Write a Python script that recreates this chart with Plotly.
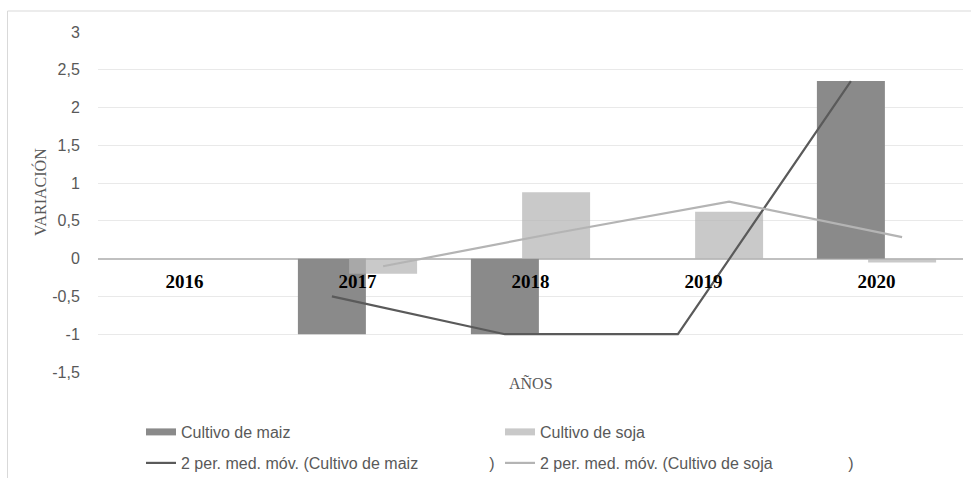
import plotly.graph_objects as go

years = ["2016", "2017", "2018", "2019", "2020"]
maiz = [0, -1, -1, 0, 2.35]
soja = [0, -0.2, 0.88, 0.62, -0.05]
maiz_ma = [None, -0.5, -1, -1, 2.35]
soja_ma = [None, -0.1, 0.34, 0.755, 0.285]
y_tickvals = [-1.5, -1, -0.5, 0, 0.5, 1, 1.5, 2, 2.5, 3]
y_ticktext = ["-1,5", "-1", "-0,5", "0", "0,5", "1", "1,5", "2", "2,5", "3"]

names = ["Cultivo de maiz", "Cultivo de soja",
         "2 per. med. móv. (Cultivo de maiz" + "\u00a0" * 16 + ")",
         "2 per. med. móv. (Cultivo de soja" + "\u00a0" * 17 + ")"]

C_MAIZ = "rgb(138,138,138)"
C_SOJA = "rgba(180,180,180,0.72)"
C_SOJA_LEG = "rgb(201,201,201)"
C_MAIZ_MA = "rgb(90,90,90)"
C_SOJA_MA = "rgb(180,180,180)"

idx = list(range(len(years)))
off = 0.148
bw = 0.393
x_m = [i - off for i in idx]
x_s = [i + off for i in idx]

fig = go.Figure()
fig.add_trace(go.Bar(x=x_m, y=maiz, width=bw, marker=dict(color=C_MAIZ, line=dict(width=0)),
                     showlegend=False, name=names[0]))
fig.add_trace(go.Bar(x=x_s, y=soja, width=bw, marker=dict(color=C_SOJA, line=dict(width=0)),
                     showlegend=False, name=names[1]))
fig.add_trace(go.Scatter(x=x_m, y=maiz_ma, mode="lines", line=dict(color=C_MAIZ_MA, width=2.2),
                         showlegend=False, name=names[2]))
fig.add_trace(go.Scatter(x=x_s, y=soja_ma, mode="lines", line=dict(color=C_SOJA_MA, width=2.2),
                         showlegend=False, name=names[3]))

# legend entries
fig.add_trace(go.Scatter(x=[None], y=[None], mode="lines", line=dict(color=C_MAIZ, width=7),
                         name=names[0], legend="legend"))
fig.add_trace(go.Scatter(x=[None], y=[None], mode="lines", line=dict(color=C_SOJA_LEG, width=7),
                         name=names[1], legend="legend"))
fig.add_trace(go.Scatter(x=[None], y=[None], mode="lines", line=dict(color=C_MAIZ_MA, width=2.2),
                         name=names[2], legend="legend2"))
fig.add_trace(go.Scatter(x=[None], y=[None], mode="lines", line=dict(color=C_SOJA_MA, width=2.2),
                         name=names[3], legend="legend2"))

W, H = 971, 478
L, R, T, B = 98, 8, 32, 106
PW, PH = W - L - R, H - T - B
ymin, ymax = -1.5, 3


def px_x(px):
    return (px - L) / PW


def px_y(py):
    return (H - B - py) / PH


leg_common = dict(orientation="h", xref="container", yref="container", x=141 / W,
                  xanchor="left", yanchor="middle", entrywidth=314, entrywidthmode="pixels",
                  font=dict(family="Liberation Sans", size=16, color="#595959"),
                  bgcolor="rgba(0,0,0,0)", itemwidth=30, traceorder="normal")

fig.update_layout(
    width=W, height=H,
    margin=dict(l=L, r=R, t=T, b=B),
    paper_bgcolor="white", plot_bgcolor="white",
    separators=",.",
    barmode="overlay",
    legend=dict(leg_common, y=1 - 432 / H),
    legend2=dict(leg_common, y=1 - 463 / H),
    xaxis=dict(range=[-0.5, 4.5], tickmode="array", tickvals=idx, ticktext=years,
               anchor="free", position=(0 - ymin) / (ymax - ymin),
               showgrid=False, zeroline=False, showline=False,
               ticks="outside", ticklen=6, tickcolor="rgba(0,0,0,0)",
               tickfont=dict(family="Liberation Serif", size=19, color="black", weight="bold")),
    yaxis=dict(range=[ymin, ymax], tickmode="array", tickvals=y_tickvals, ticktext=y_ticktext,
               showgrid=True, gridcolor="#e9e9e9", gridwidth=1,
               zeroline=True, zerolinecolor="#c0c0c0", zerolinewidth=1.6, showline=False,
               ticks="outside", ticklen=14, tickcolor="rgba(0,0,0,0)",
               tickfont=dict(family="Liberation Sans", size=16, color="#595959")),
    shapes=[dict(type="rect", xref="paper", yref="paper",
                 x0=px_x(7.5), x1=px_x(W + 5), y0=px_y(H + 5), y1=px_y(11),
                 line=dict(color="#d9d9d9", width=1), layer="below")],
    annotations=[
        dict(text="AÑOS", xref="paper", yref="paper", x=0.5, y=px_y(383),
             showarrow=False, xanchor="center", yanchor="middle",
             font=dict(family="Liberation Serif", size=16, color="#595959")),
        dict(text="VARIACIÓN", xref="paper", yref="paper", x=px_x(40), y=px_y(192),
             textangle=-90, showarrow=False, xanchor="center", yanchor="middle",
             font=dict(family="Liberation Serif", size=16, color="#595959")),
    ],
)

fig.write_html("out.html")
